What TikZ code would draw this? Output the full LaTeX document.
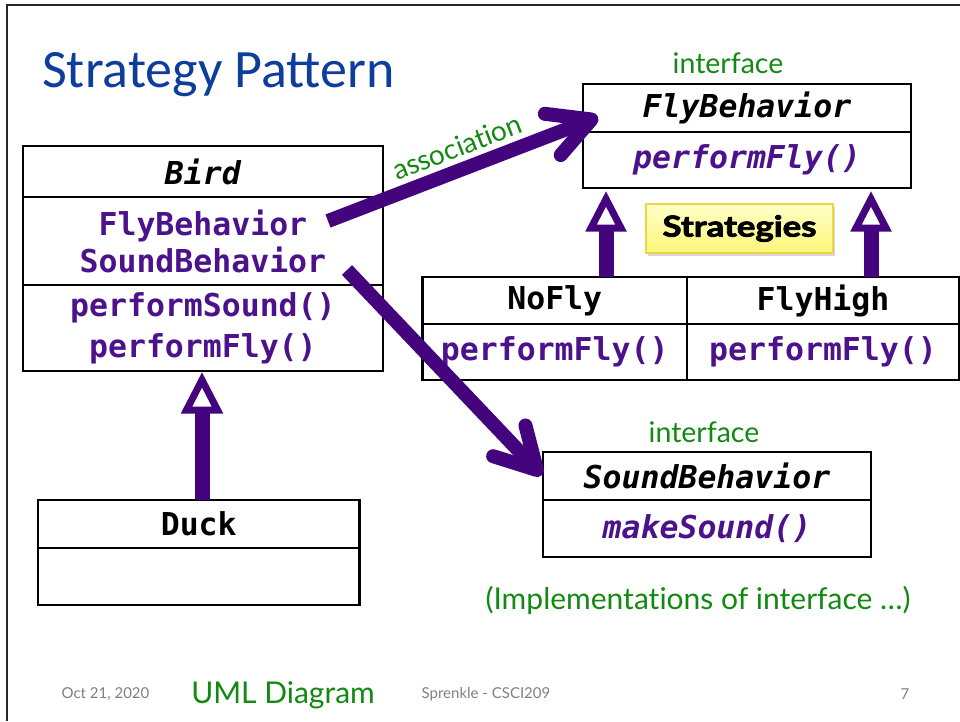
\documentclass[tikz,border=0pt]{standalone}
\usepackage{fontspec}
\setmainfont{Lato}[Ligatures=NoCommon]
\newfontfamily\monof{DejaVu Sans Mono}
\newfontfamily\titlef{Carlito}
\newfontfamily\notef{Lato}[UprightFont=* Bold, FakeBold=2.5]
\usetikzlibrary{calc,shadows}
\definecolor{purp}{RGB}{68,4,126}
\definecolor{ptext}{RGB}{76,18,140}
\definecolor{grn}{RGB}{18,138,18}
\definecolor{tblue}{RGB}{14,62,156}
\definecolor{footc}{RGB}{128,128,128}
\definecolor{ytop}{RGB}{255,255,200}
\definecolor{ybot}{RGB}{252,246,120}
\definecolor{yborder}{RGB}{238,212,70}
\tikzset{
  cell/.style={draw=black, line width=2.4pt, inner sep=0pt, align=center,
    font=\monof\bfseries\fontsize{31.5}{37}\selectfont},
  assocline/.style={draw=purp, line width=14pt, line cap=butt},
  assochead/.style={draw=purp, line width=14pt, line cap=round, line join=round},
  inhline/.style={draw=purp, line width=15pt},
  inhhead/.style={draw=purp, fill=white, line width=7pt, line join=miter},
  greenlbl/.style={text=grn, inner sep=0pt},
  footlbl/.style={text=footc, inner sep=0pt, font=\fontsize{15}{18}\selectfont}
}
\begin{document}
\begin{tikzpicture}[x=1pt,y=-1pt]
\useasboundingbox (0,0) rectangle (960,721);
\fill[white] (0,0) rectangle (960,721);
% slide frame
\draw[line width=2.2pt, black!85] (7,721) -- (7,5) -- (960,5);

% title
\node[anchor=base west, inner sep=0pt, text=tblue, font=\titlef\fontsize{54}{62}\selectfont] (title) at (42,87) {Strategy Pattern};

% Bird class
\node[cell, minimum width=360.3pt, minimum height=51pt] (birdname) at (202.9,171.5) {\itshape Bird};
\node[cell, text=ptext, minimum width=360.3pt, minimum height=88pt] (birdattr) at (202.9,241) {FlyBehavior\\SoundBehavior};
\node[cell, text=ptext, minimum width=360.3pt, minimum height=86pt, font=\monof\bfseries\fontsize{31.5}{41}\selectfont] (birdops) at (202.9,328) {performSound()\\performFly()};

% Duck class
\node[cell, minimum width=321.5pt, minimum height=48pt] (duckname) at (198.75,524) {Duck};
\node[cell, minimum width=321.5pt, minimum height=57pt] (duckbody) at (198.75,576.5) {};

% FlyBehavior interface
\node[greenlbl, font=\fontsize{28.5}{32}\selectfont] (flyif) at (728,63) {interface};
\node[cell, minimum width=328pt, minimum height=47.7pt] (flyname) at (747,108) {\itshape FlyBehavior};
\node[cell, text=ptext, minimum width=328pt, minimum height=56pt] (flyops) at (747,160) {\itshape performFly()};

% NoFly / FlyHigh
\node[cell, minimum width=264.5pt, minimum height=47pt] (noflyname) at (554.75,300.5) {NoFly};
\node[cell, text=ptext, minimum width=264.5pt, minimum height=56pt] (noflyops) at (554.75,352) {performFly()};
\node[cell, minimum width=272pt, minimum height=47pt] (highname) at (823,300.5) {FlyHigh};
\node[cell, text=ptext, minimum width=272pt, minimum height=56pt] (highops) at (823,352) {performFly()};

% Strategies note
\node[draw=yborder, line width=1.5pt, top color=ytop, bottom color=ybot,
  drop shadow={shadow xshift=2pt, shadow yshift=-3pt, opacity=0.3},
  minimum width=187pt, minimum height=49pt, inner sep=0pt,
  font=\notef\fontsize{29}{32}\selectfont] (strat) at (739.5,228.5) {\scalebox{1.2}[1]{Strategies}};

% SoundBehavior interface
\node[greenlbl, font=\fontsize{28.5}{32}\selectfont] (soundif) at (704,432) {interface};
\node[cell, minimum width=328pt, minimum height=48pt] (soundname) at (707,476) {\itshape SoundBehavior};
\node[cell, text=ptext, minimum width=328pt, minimum height=57pt] (soundops) at (707,528.5) {\itshape makeSound()};

\node[greenlbl, font=\fontsize{30}{34}\selectfont] (impl) at (698,600) {(Implementations of interface \dots)};

% footer
\node[footlbl] (date) at (105.5,694) {Oct 21, 2020};
\node[greenlbl, font=\fontsize{30}{34}\selectfont] (uml) at (283,695) {UML Diagram};
\node[footlbl] (author) at (486,694) {Sprenkle - CSCI209};
\node[footlbl] (page) at (905,694) {7};

% association: Bird -> FlyBehavior
\coordinate (as) at (328,221);
\coordinate (at) at (591.5,119.5);
\draw[assocline] (as) -- (at);
\draw[assochead] ($(at)!47pt!28:(as)$) -- (at) -- ($(at)!47pt!-28:(as)$);
\node[greenlbl, font=\fontsize{28}{32}\selectfont, rotate=21] (assoclbl) at (457,147) {association};

% association: Bird -> SoundBehavior
\coordinate (ss) at (347,270);
\coordinate (st) at (537,470);
\draw[assocline] (ss) -- (st);
\draw[assochead] ($(st)!46pt!29:(ss)$) -- (st) -- ($(st)!46pt!-29:(ss)$);

% inheritance: Duck -> Bird
\coordinate (d0) at (202,500);
\coordinate (d1) at (202,410);
\draw[inhline] (d0) -- (d1);
\draw[inhhead] (202,380) -- (186.5,410) -- (217.5,410) -- cycle;

% inheritance: NoFly -> FlyBehavior
\coordinate (n0) at (606,277);
\coordinate (n1) at (606,228);
\draw[inhline] (n0) -- (n1);
\draw[inhhead] (606,199) -- (591,228) -- (621,228) -- cycle;

% inheritance: FlyHigh -> FlyBehavior
\coordinate (h0) at (871,277);
\coordinate (h1) at (871,228);
\draw[inhline] (h0) -- (h1);
\draw[inhhead] (871,199) -- (856,228) -- (886,228) -- cycle;
\end{tikzpicture}
\end{document}
